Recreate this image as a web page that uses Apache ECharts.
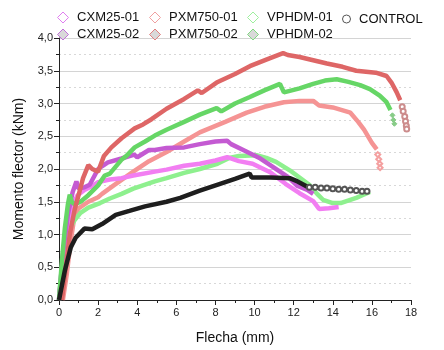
<!DOCTYPE html>
<html>
<head>
<meta charset="utf-8">
<script src="https://cdn.jsdelivr.net/npm/echarts@6/dist/echarts.min.js"></script>
<style>
  html, body { margin: 0; padding: 0; background: #fff; }
  #main { width: 444px; height: 350px; }
</style>
</head>
<body>
<div id="main"></div>
<script>
// ejes
var xTicks = [0, 2, 4, 6, 8, 10, 12, 14, 16, 18];
var yTicks = [0, 0.5, 1, 1.5, 2, 2.5, 3, 3.5, 4];

// curvas [flecha mm, momento kNm]
var cxm01 = [[0,0],[0.2,0.6],[0.45,1.1],[0.7,1.45],[0.95,1.6],[1.3,1.68],[1.7,1.74],[2.0,1.8],[2.6,1.84],[3.2,1.86],[3.8,1.9],[4.9,1.96],[5.5,1.99],[6.4,2.05],[7.2,2.08],[8.0,2.13],[8.6,2.18],[9.2,2.12],[9.9,2.08],[10.8,1.95],[11.6,1.77],[12.3,1.63],[13.0,1.51],[13.3,1.39],[13.8,1.4],[14.3,1.42]];
var cxm02 = [[0,0],[0.2,0.7],[0.45,1.3],[0.7,1.65],[0.89,1.81],[1.0,1.7],[1.3,1.72],[1.57,1.76],[2.0,2.0],[2.5,2.1],[3.2,2.16],[3.85,2.22],[4.0,2.18],[4.6,2.29],[4.9,2.29],[5.5,2.32],[6.4,2.33],[7.2,2.38],[8.0,2.42],[8.6,2.43],[8.8,2.38],[9.5,2.28],[10.3,2.16],[11.3,1.96],[11.7,1.88],[12.2,1.74],[12.7,1.68],[13.0,1.62]];
var pxm01 = [[0.2,0],[0.4,0.4],[0.6,0.9],[0.8,1.3],[1.0,1.4],[1.5,1.5],[2.0,1.57],[2.2,1.62],[2.8,1.75],[3.8,1.96],[4.6,2.12],[5.5,2.26],[6.4,2.42],[7.2,2.56],[8.5,2.72],[9.6,2.86],[10.5,2.95],[11.5,3.02],[12.3,3.04],[13.0,3.04],[13.3,2.97],[14.0,2.94],[14.9,2.86],[15.3,2.72],[15.6,2.6],[16.0,2.4],[16.25,2.3]];
var pxm01Tail = [[16.3,2.22],[16.35,2.15],[16.4,2.08],[16.42,2.02]];
var pxm02 = [[0.15,0],[0.35,0.5],[0.55,1.0],[0.8,1.38],[1.0,1.6],[1.23,1.86],[1.5,2.06],[1.7,2.0],[2.0,1.96],[2.3,2.2],[2.68,2.33],[3.2,2.47],[3.87,2.62],[4.3,2.68],[4.73,2.76],[5.5,2.92],[6.4,3.07],[7.1,3.2],[7.3,3.16],[8.06,3.32],[9.0,3.45],[9.76,3.57],[10.6,3.67],[11.46,3.77],[11.7,3.74],[12.3,3.71],[13.0,3.66],[13.7,3.61],[14.5,3.56],[15.2,3.5],[16.2,3.47],[16.75,3.42],[17.0,3.32],[17.27,3.17],[17.45,3.05]];
var pxm02Tail = [[17.55,2.95],[17.6,2.88],[17.68,2.8],[17.72,2.73],[17.76,2.66],[17.78,2.61]];
var vp01 = [[0,0],[0.15,0.5],[0.35,0.9],[0.6,1.12],[0.8,1.22],[1.1,1.33],[1.5,1.41],[2.1,1.48],[2.6,1.55],[3.2,1.62],[3.8,1.7],[4.9,1.81],[5.5,1.86],[6.4,1.94],[7.2,2.0],[8.1,2.08],[8.7,2.17],[9.2,2.2],[10.1,2.21],[10.6,2.17],[11.1,2.11],[11.8,1.98],[12.3,1.87],[12.8,1.76],[13.2,1.62],[13.5,1.53],[14.0,1.48],[14.4,1.48],[15.2,1.56],[15.6,1.61],[15.9,1.65]];
var vp02 = [[0,0],[0.15,0.6],[0.3,1.1],[0.45,1.45],[0.55,1.61],[0.65,1.5],[0.8,1.46],[1.1,1.5],[1.5,1.6],[2.0,1.75],[2.34,1.9],[2.6,1.93],[3.19,2.14],[3.45,2.2],[3.87,2.33],[4.4,2.42],[4.9,2.51],[5.5,2.6],[6.4,2.72],[7.2,2.83],[8.06,2.93],[8.3,2.88],[9.0,3.0],[9.76,3.1],[10.5,3.2],[11.3,3.3],[11.5,3.17],[12.3,3.23],[13.0,3.3],[13.6,3.35],[14.2,3.37],[14.8,3.33],[15.4,3.28],[15.9,3.22],[16.4,3.12],[16.75,3.02],[16.95,2.9]];
var vp02Tail = [[17.05,2.82],[17.1,2.75],[17.15,2.69]];
var control = [[0,0],[0.3,0.45],[0.6,0.8],[0.85,0.95],[1.3,1.09],[1.7,1.08],[2.2,1.16],[2.9,1.3],[3.6,1.36],[4.4,1.43],[5.5,1.5],[6.2,1.56],[7.2,1.67],[8.2,1.77],[9.0,1.85],[9.75,1.93],[9.85,1.87],[10.8,1.87],[11.8,1.86],[12.2,1.81],[12.7,1.73]];
var controlTail = [[12.8,1.72],[13.1,1.72],[13.4,1.71],[13.7,1.71],[14.0,1.7],[14.3,1.69],[14.6,1.69],[14.9,1.68],[15.2,1.67],[15.5,1.66],[15.75,1.66]];

var font = "'Liberation Sans', Arial, sans-serif";
var chart = echarts.init(document.getElementById('main'));

function band (name, data, color) {
  return {
    name: name, type: 'line', data: data, showSymbol: false, symbol: 'none',
    lineStyle: { color: color, width: 4.5 }, itemStyle: { color: color },
    animation: false, z: 3
  };
}
function tail (name, data, color, symbol) {
  return {
    name: name, type: 'line', data: data, symbol: symbol, symbolSize: 5, showSymbol: true,
    lineStyle: { width: 0, opacity: 0 }, itemStyle: { color: color, borderColor: color },
    animation: false, z: 3
  };
}

function legendItem (name, fill, border, icon) {
  return {
    name: name, icon: icon || 'diamond',
    itemStyle: { color: fill, borderColor: border, borderWidth: 1 }
  };
}

// una leyenda por columna para alinear como en el original
function legendCol (left, items, size) {
  size = size || 11;
  return {
    left: left, top: 6 + (11 - size) / 2, orient: 'vertical', itemWidth: size, itemHeight: size, itemGap: 4,
    selectedMode: false,
    formatter: function (n) { return ' ' + n; },
    textStyle: { fontFamily: font, fontSize: 13, color: '#111' },
    data: items
  };
}

var option = {
  backgroundColor: '#fff',
  animation: false,
  grid: { left: 59, right: 33, top: 38, bottom: 47 },
  legend: [
    legendCol(52, [
      legendItem('CXM25-01', 'rgba(0,0,0,0)', '#e07ef0'),
      legendItem('CXM25-02', '#d9d9d9', '#c070d8')
    ]),
    legendCol(144, [
      legendItem('PXM750-01', 'rgba(0,0,0,0)', '#f0a0a0'),
      legendItem('PXM750-02', '#d9d9d9', '#e08080')
    ]),
    legendCol(242, [
      legendItem('VPHDM-01', 'rgba(0,0,0,0)', '#9ef09e'),
      legendItem('VPHDM-02', '#d9d9d9', '#80d880')
    ]),
    legendCol(337, [
      legendItem('CONTROL', 'rgba(0,0,0,0)', '#555', 'circle')
    ], 8)
  ],
  xAxis: {
    type: 'value', min: xTicks[0], max: xTicks[xTicks.length - 1], interval: 2,
    name: 'Flecha (mm)', nameLocation: 'middle', nameGap: 31,
    nameTextStyle: { fontFamily: font, fontSize: 14, color: '#111' },
    axisLine: { show: true, lineStyle: { color: '#222', width: 1 } },
    axisTick: { show: true, length: 5, lineStyle: { color: '#222' } },
    minorTick: { show: true, splitNumber: 2, length: 3, lineStyle: { color: '#222' } },
    splitLine: { show: false },
    axisLabel: { fontFamily: font, fontSize: 11, color: '#222', margin: 7 }
  },
  yAxis: {
    type: 'value', min: yTicks[0], max: yTicks[yTicks.length - 1], interval: 0.5,
    name: 'Momento flector (kNm)', nameLocation: 'middle', nameGap: 33,
    nameTextStyle: { fontFamily: font, fontSize: 14, color: '#111' },
    axisLine: { show: true, lineStyle: { color: '#222', width: 1 } },
    axisTick: { show: true, length: 5, lineStyle: { color: '#222' } },
    minorTick: { show: true, splitNumber: 2, length: 3, lineStyle: { color: '#222' } },
    splitLine: { show: true, lineStyle: { color: '#d4d4d4', width: 1 } },
    minorSplitLine: { show: true, lineStyle: { color: '#d8d8d8', type: [2, 3], width: 1 } },
    axisLabel: {
      fontFamily: font, fontSize: 11, color: '#222', margin: 6,
      formatter: function (v) { return v.toFixed(1).replace('.', ','); }
    }
  },
  series: [
    band('PXM750-01', pxm01, '#f59494'),
    tail('PXM750-01', pxm01Tail, '#f4a0a0', 'emptyDiamond'),
    band('VPHDM-01', vp01, '#8ef08e'),
    band('CXM25-01', cxm01, '#f27ef2'),
    band('CXM25-02', cxm02, '#c45ad2'),
    band('VPHDM-02', vp02, '#66d666'),
    tail('VPHDM-02', vp02Tail, '#88cc88', 'diamond'),
    band('PXM750-02', pxm02, '#de6666'),
    tail('PXM750-02', pxm02Tail, '#cc8c8c', 'emptyCircle'),
    band('CONTROL', control, '#1e1e1e'),
    tail('CONTROL', controlTail, '#555', 'emptyCircle')
  ]
};
chart.setOption(option);
</script>
</body>
</html>
